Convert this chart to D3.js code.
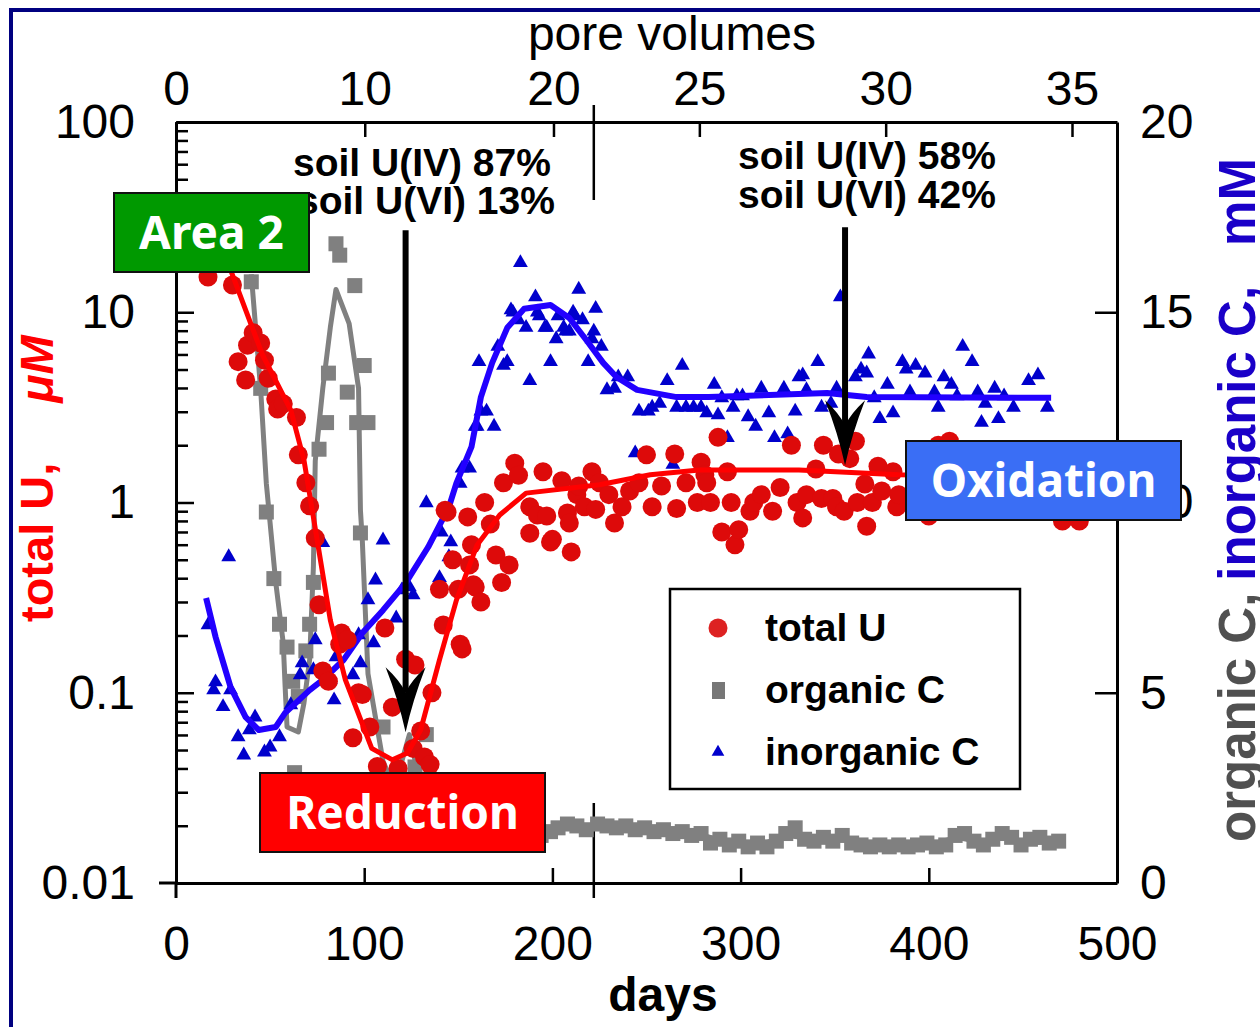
<!DOCTYPE html>
<html>
<head>
<meta charset="utf-8">
<script src="https://cdn.jsdelivr.net/npm/d3@7"></script>
<style>
  body { margin: 0; background: #fff; }
  svg { display: block; }
</style>
</head>
<body>
<script>
const WIDTH = 1260;
const HEIGHT = 1027;

// axis ticks
const dayTicks = [0, 100, 200, 300, 400, 500];
const poreTicks = [0, 10, 20, 25, 30, 35];
const uMajorTicks = [0.01, 0.1, 1, 10, 100];
const uTickLabels = ['0.01', '0.1', '1', '10', '100'];
const carbonTicks = [0, 5, 10, 15, 20];
const breakDay = 222;  // change of flow rate (pore volume axis break)

// total U, uM  [day, value]
const totalU = [
  [17, 15.3], [30, 13.9], [33, 5.5], [37, 4.4], [38, 6.7], [41, 7.8], [45, 6.9], [47, 5.6],
  [49, 4.5], [53, 3.5], [54, 3.1], [57, 3.3], [64, 2.8], [65, 1.78], [69, 1.27], [71, 0.96],
  [74, 0.65], [76, 0.29], [78, 0.13], [81, 0.115], [87, 0.18], [88, 0.206], [89, 0.196], [91, 0.19],
  [94, 0.058], [97, 0.1], [99, 0.098], [103, 0.066], [107, 0.041], [111, 0.219], [115, 0.084], [118, 0.040],
  [122, 0.15], [126, 0.051], [127, 0.14], [130, 0.063], [132, 0.046], [135, 0.042], [136, 0.1], [140, 0.35],
  [142, 0.227], [143, 0.91], [144, 0.89], [147, 0.50], [150, 0.35], [151, 0.18], [152, 0.17], [155, 0.84],
  [156, 0.47], [157, 0.6], [158, 0.37], [159, 0.36], [162, 0.30], [164, 1.0], [167, 0.77], [170, 0.53],
  [173, 0.38], [174, 1.27], [177, 0.47], [180, 1.61], [182, 1.39], [188, 0.69], [188, 0.95], [192, 0.86],
  [195, 1.45], [197, 0.85], [199, 0.62], [200, 0.64], [205, 1.3], [208, 0.88], [209, 0.78], [210, 0.55],
  [213, 1.1], [214, 1.22], [217, 0.95], [221, 1.45], [223, 0.92], [225, 1.27], [230, 1.1], [233, 0.78],
  [237, 0.95], [241, 1.15], [246, 1.27], [250, 1.78], [253, 0.95], [258, 1.22], [265, 1.8], [266, 0.93],
  [271, 1.27], [277, 1.0], [279, 1.63], [281, 1.4], [282, 1.27], [284, 1.0], [288, 2.2], [290, 0.7],
  [293, 1.45], [295, 1.0], [297, 0.6], [299, 0.72], [305, 0.9], [307, 1.0], [311, 1.1], [317, 0.9],
  [321, 1.2], [327, 2.0], [330, 1.0], [333, 0.83], [335, 1.1], [340, 1.5], [343, 1.05], [344, 2.0],
  [349, 1.05], [351, 0.95], [352, 1.8], [355, 0.9], [358, 1.7], [361, 2.1], [362, 1.0], [366, 1.25],
  [367, 0.75], [370, 1.0], [373, 1.55], [375, 1.15], [381, 1.45], [383, 0.95], [384, 1.1], [400, 0.85],
  [405, 2.0], [411, 2.1], [415, 0.9], [471, 0.8], [480, 0.8]
];
const totalUFit = [
  [29, 16.7], [46, 5.96], [61, 3.06], [68, 1.67], [75, 0.635], [82, 0.241], [90, 0.117], [104, 0.051],
  [115, 0.0444], [123, 0.0482], [130, 0.0637], [140, 0.149], [149, 0.307], [160, 0.598], [172, 0.86],
  [186, 1.12], [225, 1.24], [252, 1.40], [278, 1.48], [331, 1.48], [384, 1.40], [464, 1.36]
];

// organic C, mM
const organicC = [
  [40, 15.8], [41, 16.8], [42, 16.5], [45, 13.0], [48, 9.75], [52, 8.0], [55, 6.8], [59, 6.2],
  [62, 5.3], [63, 2.9], [65, 4.9], [69, 6.1], [71, 6.8], [73, 7.9], [76, 11.4], [80, 12.1],
  [81, 13.4], [85, 16.8], [87, 16.5], [91, 12.9], [95, 15.7], [96, 12.1], [98, 9.2], [100, 13.6],
  [102, 12.1], [110, 4.1], [127, 3.05], [133, 3.9], [150, 1.6], [175, 1.5],
  [194, 1.25], [199, 1.35], [203, 1.45], [208, 1.55], [213, 1.5], [218, 1.4], [224, 1.55], [229, 1.5],
  [234, 1.45], [239, 1.5], [244, 1.4], [249, 1.45], [254, 1.35], [259, 1.4], [264, 1.3], [269, 1.35],
  [274, 1.25], [279, 1.3], [284, 1.05], [289, 1.15], [294, 1.0], [299, 1.1], [304, 0.95], [309, 1.05],
  [314, 0.95], [319, 1.1], [324, 1.3], [329, 1.45], [334, 1.15], [339, 1.1], [344, 1.2], [349, 1.1],
  [354, 1.25], [359, 1.05], [364, 1.0], [369, 0.95], [374, 1.0], [379, 0.95], [384, 1.0], [389, 0.95],
  [394, 1.0], [399, 1.05], [404, 0.95], [409, 1.0], [414, 1.25], [419, 1.3], [424, 1.1], [429, 1.0],
  [434, 1.15], [439, 1.3], [444, 1.2], [449, 1.0], [454, 1.15], [459, 1.2], [464, 1.05], [469, 1.1]
];
const organicCFit = [
  [40, 16.0], [45, 12.96], [48, 10.5], [53, 7.9], [57, 6.3], [58, 5.15], [59, 4.1], [65, 3.97],
  [68, 4.73], [71, 5.86], [73, 8.3], [74, 11.1], [78, 13.0], [82, 14.6], [85, 15.6], [92, 14.7],
  [97, 13.0], [98, 9.8], [99, 9.0], [102, 5.5], [110, 3.2], [116, 2.5], [124, 3.9], [128, 3.0],
  [135, 2.0], [150, 1.5], [190, 1.35], [210, 1.45], [240, 1.45], [265, 1.35], [280, 1.25], [295, 1.05],
  [310, 1.0], [325, 1.25], [340, 1.15], [355, 1.15], [370, 1.0], [400, 1.0], [415, 1.2], [430, 1.05],
  [440, 1.25], [450, 1.05], [470, 1.1]
];

// inorganic C, mM
const inorganicC = [
  [17, 6.78], [20, 5.07], [21, 5.28], [25, 4.63], [28, 8.57], [29, 5.07], [33, 3.84], [36, 3.36],
  [39, 4.02], [42, 4.36], [47, 3.44], [50, 3.57], [55, 3.84], [61, 4.68], [66, 5.47], [67, 5.78],
  [73, 5.60], [74, 6.39], [78, 8.94], [82, 5.34], [84, 4.81], [85, 5.94], [94, 5.47], [97, 6.52],
  [98, 5.78], [102, 7.44], [105, 6.31], [106, 7.96], [110, 9.01], [117, 6.96], [120, 7.70], [124, 7.78],
  [126, 7.57], [133, 9.99], [140, 8.02], [141, 9.22], [145, 8.57], [146, 8.96], [151, 10.5], [152, 10.9],
  [156, 10.9], [159, 12.0], [160, 12.0], [161, 13.7], [162, 12.4], [165, 12.4], [169, 12.0], [171, 14.1],
  [174, 13.6], [176, 13.7], [178, 15.06], [179, 15.0], [183, 16.3], [182, 14.8], [186, 14.6], [188, 13.2],
  [191, 15.4], [192, 15.0], [193, 14.9], [196, 14.6], [197, 14.6], [199, 13.7], [202, 14.3], [203, 14.9],
  [206, 14.6], [207, 14.5], [209, 14.5], [211, 15.0], [212, 14.9], [214, 15.6], [216, 14.8], [219, 13.7],
  [221, 14.3], [222, 14.5], [223, 15.1], [226, 14.1], [229, 12.96], [233, 13.0], [235, 13.3], [240, 13.3],
  [244, 11.3], [246, 12.4], [251, 12.4], [253, 12.5], [257, 12.6], [261, 13.2], [264, 11.0], [266, 12.5],
  [269, 13.6], [271, 12.5], [275, 12.5], [279, 12.5], [282, 12.35], [286, 13.1], [288, 12.3], [290, 12.75],
  [293, 11.7], [296, 12.5], [298, 12.8], [301, 12.8], [304, 12.25], [308, 12.0], [311, 13.0], [315, 12.35],
  [318, 11.7], [323, 13.0], [325, 11.8], [329, 12.4], [331, 13.3], [333, 13.35], [335, 12.96], [341, 13.7],
  [343, 12.5], [348, 12.6], [351, 13.0], [353, 15.4], [361, 13.3], [364, 13.5], [367, 13.4], [368, 13.9],
  [371, 12.75], [374, 12.2], [378, 13.1], [381, 12.35], [386, 13.7], [388, 13.5], [390, 12.9], [393, 13.6],
  [398, 13.4], [403, 12.9], [405, 12.5], [408, 13.3], [412, 13.1], [415, 12.8], [418, 14.1], [423, 13.7],
  [426, 12.9], [428, 12.1], [430, 12.6], [435, 13.0], [437, 12.2], [440, 12.8], [445, 12.5], [453, 13.2],
  [458, 13.35], [463, 12.5]
];
const inorganicCFit = [
  [16, 7.49], [21, 6.47], [29, 5.15], [37, 4.36], [44, 4.02], [53, 4.10], [58, 4.47], [71, 5.07],
  [78, 5.34], [89, 5.86], [99, 6.57], [110, 7.17], [122, 7.88], [134, 8.83], [145, 9.88], [149, 10.51],
  [157, 11.46], [162, 12.77], [168, 13.67], [176, 14.59], [185, 15.09], [199, 15.19], [209, 14.85],
  [218, 14.27], [227, 13.67], [234, 13.30], [245, 12.96], [266, 12.77], [283, 12.77], [346, 12.88],
  [367, 12.77], [465, 12.75]
];

// annotations: arrows point at the soil sampling days
const arrows = [
  { day: 122, from: 27, to: 0.062 },
  { day: 355.5, from: 28, to: 1.57 }
];
const legendItems = ['total U', 'organic C', 'inorganic C'];

const RED = '#dd0a0a', GRAY = '#808080', BLUE = '#0000cc';
const NUM_FONT = '"Liberation Sans", Arial, sans-serif';
const BOX_FONT = '"Noto Sans", "Open Sans", sans-serif';

const x = d3.scaleLinear().domain([0, 500]).range([176, 1117]);
const xPore = d3.scaleLinear().domain([0, 22.2, 35, 36.2]).range([176, 595, 1072, 1117]);
const yU = d3.scaleLog().domain([0.01, 100]).range([883, 122]);
const yC = d3.scaleLinear().domain([0, 20]).range([883, 122]);

const svg = d3.select('body').append('svg')
  .attr('width', WIDTH)
  .attr('height', HEIGHT);

svg.append('rect').attr('width', WIDTH).attr('height', HEIGHT).attr('fill', '#fff');

// dark blue frame round the slide
svg.append('rect')
  .attr('x', 11).attr('y', 10).attr('width', 1400).attr('height', 1100)
  .attr('fill', 'none').attr('stroke', '#000080').attr('stroke-width', 4);

function styleAxis(g, fontSize) {
  g.attr('font-family', NUM_FONT).attr('font-size', fontSize);
  g.selectAll('path').attr('stroke', '#000').attr('stroke-width', 3);
  g.selectAll('line').attr('stroke', '#000').attr('stroke-width', 2.5);
  g.selectAll('text').attr('fill', '#000');
}

// bottom axis, days
svg.append('g')
  .attr('transform', `translate(0,${yU(0.01)})`)
  .call(d3.axisBottom(x).tickValues(dayTicks).tickSizeInner(-15).tickSizeOuter(0).tickPadding(43))
  .call(styleAxis, 48);

// top axis, pore volumes
svg.append('g')
  .attr('transform', `translate(0,${yU(100)})`)
  .call(d3.axisTop(xPore).tickValues(poreTicks).tickSizeInner(-15).tickSizeOuter(0).tickPadding(17))
  .call(styleAxis, 48);

// left axis, log scale
const minorU = [];
[0.01, 0.1, 1, 10].forEach(d => { for (let k = 2; k <= 9; k++) minorU.push(d * k); });
svg.append('g')
  .attr('transform', `translate(${x(0)},0)`)
  .call(d3.axisLeft(yU).tickValues(minorU).tickSizeInner(-12).tickSizeOuter(0).tickFormat(''))
  .call(styleAxis, 48);
svg.append('g')
  .attr('transform', `translate(${x(0)},0)`)
  .call(d3.axisLeft(yU).tickValues(uMajorTicks).tickSizeInner(-18).tickSizeOuter(0).tickPadding(41)
    .tickFormat((d, i) => uTickLabels[i]))
  .call(styleAxis, 48);

// right axis, mM
svg.append('g')
  .attr('transform', `translate(${x(500)},0)`)
  .call(d3.axisRight(yC).tickValues(carbonTicks).tickSizeInner(-22).tickSizeOuter(0).tickPadding(23))
  .call(styleAxis, 48);

// corner cross at bottom left
svg.append('line').attr('x1', x(0) - 17).attr('x2', x(0)).attr('y1', yU(0.01)).attr('y2', yU(0.01))
  .attr('stroke', '#000').attr('stroke-width', 3);
svg.append('line').attr('x1', x(0)).attr('x2', x(0)).attr('y1', yU(0.01)).attr('y2', yU(0.01) + 15)
  .attr('stroke', '#000').attr('stroke-width', 3);

// axis break marks on top and bottom
[[yU(100) - 17, yU(100) + 78], [yU(0.01) - 80, yU(0.01) + 15]].forEach(([a, b]) => {
  svg.append('line').attr('x1', x(breakDay)).attr('x2', x(breakDay)).attr('y1', a).attr('y2', b)
    .attr('stroke', '#000').attr('stroke-width', 2.5);
});

// axis titles
svg.append('text').attr('x', 672).attr('y', 50).attr('text-anchor', 'middle')
  .attr('font-family', NUM_FONT).attr('font-size', 48).text('pore volumes');
svg.append('text').attr('x', 663).attr('y', 1011).attr('text-anchor', 'middle')
  .attr('font-family', NUM_FONT).attr('font-size', 48).attr('font-weight', 'bold').text('days');

const leftTitle = svg.append('text')
  .attr('transform', 'translate(53,622) rotate(-90)')
  .attr('font-family', NUM_FONT).attr('font-size', 47).attr('font-weight', 'bold').attr('fill', '#ff0000');
leftTitle.append('tspan').text('total U,');
leftTitle.append('tspan').attr('dx', 60).attr('font-style', 'italic').text('\u03bcM');

const rightTitle = svg.append('text')
  .attr('transform', 'translate(1255,842) rotate(-90)')
  .attr('font-family', NUM_FONT).attr('font-size', 51).attr('font-weight', 'bold');
rightTitle.append('tspan').attr('fill', '#505050').text('organic C,');
rightTitle.append('tspan').attr('dx', 12).attr('fill', '#1a00c8').text('inorganic C,');
rightTitle.append('tspan').attr('dx', 40).attr('fill', '#1a00c8').text('mM');

// series
const lineC = d3.line().x(d => x(d[0])).y(d => yC(d[1]));
const lineU = d3.line().x(d => x(d[0])).y(d => yU(d[1]));

svg.append('path').datum(organicCFit).attr('d', lineC)
  .attr('fill', 'none').attr('stroke', GRAY).attr('stroke-width', 5).attr('stroke-linejoin', 'round');
svg.append('g').selectAll('rect').data(organicC).join('rect')
  .attr('x', d => x(d[0]) - 7.5).attr('y', d => yC(d[1]) - 7.5)
  .attr('width', 15).attr('height', 15).attr('fill', GRAY);

const tri = d3.symbol().type(d3.symbolTriangle).size(95);
svg.append('g').selectAll('path').data(inorganicC).join('path')
  .attr('transform', d => `translate(${x(d[0])},${yC(d[1])})`)
  .attr('d', tri).attr('fill', BLUE);
svg.append('path').datum(inorganicCFit).attr('d', lineC)
  .attr('fill', 'none').attr('stroke', '#2200ff').attr('stroke-width', 6).attr('stroke-linejoin', 'round');

svg.append('g').selectAll('circle').data(totalU).join('circle')
  .attr('cx', d => x(d[0])).attr('cy', d => yU(d[1])).attr('r', 9.5).attr('fill', RED);
svg.append('path').datum(totalUFit).attr('d', lineU)
  .attr('fill', 'none').attr('stroke', '#ff0000').attr('stroke-width', 5).attr('stroke-linejoin', 'round');

// arrows
arrows.forEach(a => {
  const ax = x(a.day), y0 = yU(a.from), y1 = yU(a.to);
  svg.append('line').attr('x1', ax).attr('x2', ax).attr('y1', y0).attr('y2', y1 - 40)
    .attr('stroke', '#000').attr('stroke-width', 6);
  svg.append('path')
    .attr('d', `M${ax - 20},${y1 - 65} Q${ax - 7},${y1 - 32} ${ax},${y1} Q${ax + 7},${y1 - 32} ${ax + 20},${y1 - 65}`
      + ` Q${ax + 6},${y1 - 52} ${ax},${y1 - 40} Q${ax - 6},${y1 - 52} ${ax - 20},${y1 - 65} Z`)
    .attr('fill', '#000');
});

// soil fractions
const notes = [
  { x: 293, y: 176, t: 'soil U(IV) 87%' }, { x: 297, y: 214, t: 'soil U(VI) 13%' },
  { x: 738, y: 169, t: 'soil U(IV) 58%' }, { x: 738, y: 208, t: 'soil U(VI) 42%' }
];
svg.append('g').selectAll('text').data(notes).join('text')
  .attr('x', d => d.x).attr('y', d => d.y)
  .attr('font-family', NUM_FONT).attr('font-size', 39).attr('font-weight', 'bold')
  .text(d => d.t);

// legend
const lg = svg.append('g');
lg.append('rect').attr('x', 670).attr('y', 589).attr('width', 350).attr('height', 200)
  .attr('fill', '#fff').attr('stroke', '#000').attr('stroke-width', 2.5);
legendItems.forEach((name, i) => {
  const cy = 628 + i * 62;
  if (i === 0) lg.append('circle').attr('cx', 718).attr('cy', cy).attr('r', 9.5).attr('fill', '#dd2222');
  if (i === 1) lg.append('rect').attr('x', 712).attr('y', cy - 8).attr('width', 13).attr('height', 17).attr('fill', '#777');
  if (i === 2) lg.append('path').attr('transform', `translate(718,${cy})`)
    .attr('d', d3.symbol().type(d3.symbolTriangle).size(70)).attr('fill', BLUE);
  lg.append('text').attr('x', 765).attr('y', cy + 13)
    .attr('font-family', NUM_FONT).attr('font-size', 39).attr('font-weight', 'bold').text(name);
});

// phase boxes
const boxes = [
  { x: 114, y: 193, w: 195, h: 79, fill: '#009900', t: 'Area 2' },
  { x: 260, y: 773, w: 285, h: 79, fill: '#ff0000', t: 'Reduction' },
  { x: 906, y: 441, w: 275, h: 79, fill: '#3a6ef5', t: 'Oxidation' }
];
boxes.forEach(b => {
  svg.append('rect').attr('x', b.x).attr('y', b.y).attr('width', b.w).attr('height', b.h)
    .attr('fill', b.fill).attr('stroke', '#111').attr('stroke-width', 2);
  svg.append('text').attr('x', b.x + b.w / 2).attr('y', b.y + b.h / 2 + 16)
    .attr('text-anchor', 'middle').attr('font-family', BOX_FONT).attr('font-size', 46)
    .attr('font-weight', 'bold').attr('fill', '#fff').text(b.t);
});
</script>
</body>
</html>
